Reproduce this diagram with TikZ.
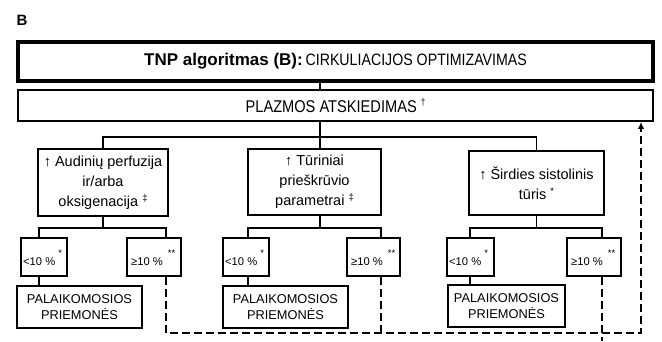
\documentclass[tikz,border=0pt]{standalone}
\usepackage{fontspec}
\setmainfont{Liberation Sans}
\newfontfamily\narrowfont[FakeStretch=0.86]{Liberation Sans}
\usetikzlibrary{arrows.meta}
\begin{document}
\begin{tikzpicture}[x=1pt,y=-1pt,
  box/.style={draw, line width=1.8pt, rectangle, inner sep=0pt, align=center},
  bigbox/.style={box, font=\fontsize{14.5}{20}\selectfont},
  palbox/.style={box, font=\fontsize{12.8}{15.5}\selectfont},
  pct/.style={anchor=base west, inner sep=0pt, font=\fontsize{11.2}{13}\selectfont},
  conn/.style={line width=1.8pt},
  dconn/.style={line width=1.7pt, dash pattern=on 8pt off 4pt}
]
\useasboundingbox (0,0) rectangle (662,341);
\newcommand{\smark}[2][5pt]{\raisebox{#1}{\fontsize{9.5}{9.5}\selectfont #2}}

\node[font=\fontsize{15}{16}\selectfont\bfseries, inner sep=0pt] (lblB) at (22,20) {B};

% title and plasma boxes
\node[box, line width=3.5pt, minimum width=635, minimum height=39] (title) at (335.5,61.5)
  {{\fontsize{17}{20}\selectfont\bfseries TNP algoritmas (B):} {\narrowfont\fontsize{16.5}{20}\selectfont CIRKULIACIJOS OPTIMIZAVIMAS}};
\node[box, minimum width=635, minimum height=31] (plaz) at (335.5,105.5)
  {\narrowfont\fontsize{17}{20}\selectfont PLAZMOS ATSKIEDIMAS \smark[7pt]{†}};

% main boxes
\node[bigbox, minimum width=130, minimum height=67] (b1) at (103,182.5)
  {↑ Audinių perfuzija\\ir/arba\\oksigenacija \smark{‡}};
\node[bigbox, minimum width=133, minimum height=66] (b2) at (314.5,182)
  {↑ Tūriniai\\prieškrūvio\\parametrai \smark{‡}};
\node[bigbox, minimum width=135, minimum height=64] (b3) at (536.5,183)
  {↑ Širdies sistolinis\\tūris \smark{*}};

% small percentage boxes
\node[box, minimum width=46, minimum height=38] (s1a) at (44,257) {};
\node[box, minimum width=54, minimum height=38] (s1b) at (154,257) {};
\node[box, minimum width=46, minimum height=38] (s2a) at (246,257) {};
\node[box, minimum width=53, minimum height=38] (s2b) at (373.5,257) {};
\node[box, minimum width=47, minimum height=38] (s3a) at (470.5,257) {};
\node[box, minimum width=54, minimum height=38] (s3b) at (594,257) {};

\node[pct] (t1a) at (23,265) {<10 \%\hspace{3pt}\smark[9pt]{*}};
\node[pct] (t1b) at (131,265) {≥10 \%\hspace{5pt}\smark[9pt]{**}};
\node[pct] (t2a) at (225,265) {<10 \%\hspace{3pt}\smark[9pt]{*}};
\node[pct] (t2b) at (351,265) {≥10 \%\hspace{5pt}\smark[9pt]{**}};
\node[pct] (t3a) at (449,265) {<10 \%\hspace{3pt}\smark[9pt]{*}};
\node[pct] (t3b) at (571,265) {≥10 \%\hspace{5pt}\smark[9pt]{**}};

% supportive measures boxes
\node[palbox, minimum width=125, minimum height=42] (p1) at (79.5,307) {PALAIKOMOSIOS\\PRIEMONĖS};
\node[palbox, minimum width=125, minimum height=42] (p2) at (285.5,307) {PALAIKOMOSIOS\\PRIEMONĖS};
\node[palbox, minimum width=117, minimum height=42] (p3) at (506.5,306) {PALAIKOMOSIOS\\PRIEMONĖS};

% junction coordinates
\coordinate (j0) at (320,137);
\coordinate (L1a) at (39,228);
\coordinate (L1b) at (166,228);
\coordinate (L2a) at (248,228);
\coordinate (L2b) at (381,228);
\coordinate (L2c) at (320,228);
\coordinate (L3a) at (470,228);
\coordinate (L3b) at (602,228);
\coordinate (D1) at (166,333);
\coordinate (D2) at (381,333);
\coordinate (D3) at (602,341);
\coordinate (DR) at (641,333);

% solid connectors
\draw[conn] (title.south -| j0) -- (plaz.north -| j0);
\draw[conn] (plaz.south -| j0) -- (j0) -- (b2.north -| j0);
\draw[conn] (b1.north) -- (b1.north |- j0) -- (b3.north |- j0) -- (b3.north);

\draw[conn] (b1.south) -- (b1.south |- L1a);
\draw[conn] (s1a.north -| L1a) -- (L1a) -- (L1b) -- (s1b.north -| L1b);
\draw[conn] (b2.south -| L2c) -- (L2c);
\draw[conn] (s2a.north -| L2a) -- (L2a) -- (L2b) -- (s2b.north -| L2b);
\draw[conn] (b3.south) -- (b3.south |- L3a);
\draw[conn] (s3a.north -| L3a) -- (L3a) -- (L3b) -- (s3b.north -| L3b);

\draw[conn] (s1a.south -| L1a) -- (p1.north -| L1a);
\draw[conn] (s2a.south -| L2a) -- (p2.north -| L2a);
\draw[conn] (s3a.south -| L3a) -- (p3.north -| L3a);

% dashed feedback
\draw[dconn, -{Latex[length=7pt,width=6.5pt]}] (s1b.south -| D1) -- (D1) -- (DR) -- (plaz.south -| DR);
\draw[dconn] (s2b.south -| D2) -- (D2);
\draw[dconn] (s3b.south -| D3) -- (D3);
\end{tikzpicture}
\end{document}
